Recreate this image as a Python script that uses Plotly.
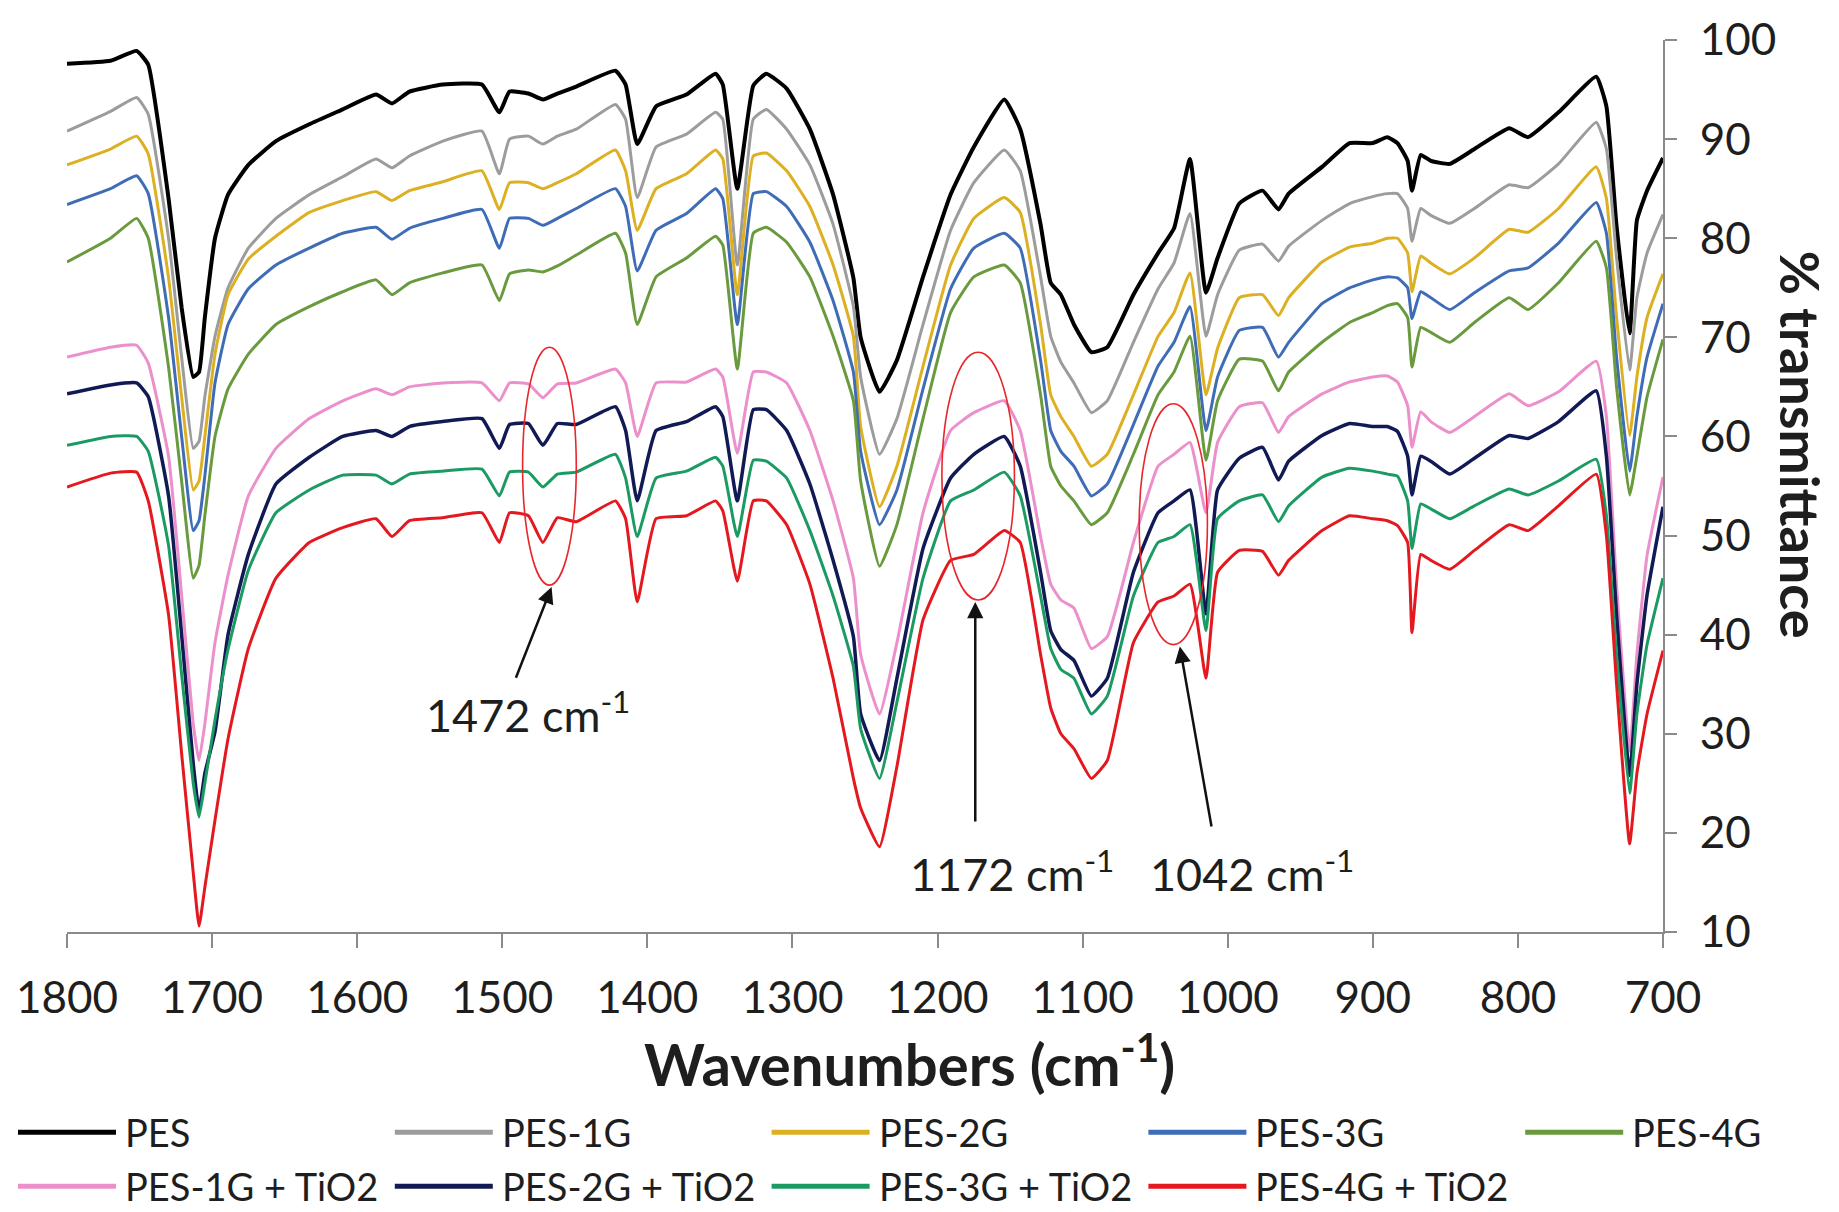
import plotly.graph_objects as go

# ---------------- data ----------------
wavenumber = [1800, 1770, 1752, 1744, 1730, 1721, 1713, 1709, 1705, 1698,
              1689, 1675, 1656, 1633, 1610, 1587, 1576, 1564, 1541, 1514,
              1502, 1495, 1482, 1472, 1462, 1449, 1422, 1415, 1407, 1394,
              1373, 1353, 1348, 1338, 1327, 1318, 1304, 1288, 1272, 1258,
              1253, 1240, 1228, 1210, 1191, 1175, 1154, 1143, 1129, 1122,
              1115, 1106, 1094, 1083, 1065, 1048, 1037, 1026, 1015, 1007,
              992, 976, 965, 958, 935, 916, 900, 890, 883, 876,
              873, 867, 860, 847, 830, 806, 793, 772, 746, 739,
              732, 723, 718, 711, 700]

pes = [97.6, 97.9, 98.9, 97.5, 84.0, 73.0, 66.0, 66.5, 72.0, 80.0,
       84.4, 87.4, 89.8, 91.5, 93.0, 94.5, 93.6, 94.8, 95.5, 95.5,
       92.7, 94.8, 94.6, 94.0, 94.6, 95.3, 96.9, 95.5, 89.5, 93.3,
       94.5, 96.6, 95.5, 85.0, 95.4, 96.6, 95.1, 91.0, 84.4, 76.0,
       70.0, 64.5, 67.7, 76.1, 84.4, 89.2, 94.0, 91.0, 81.4, 75.5,
       74.3, 71.3, 68.5, 69.0, 74.3, 78.5, 81.0, 88.0, 74.5, 78.0,
       83.5, 84.8, 82.9, 84.5, 87.2, 89.6, 89.6, 90.2, 89.6, 87.8,
       84.8, 88.4, 87.8, 87.5, 89.0, 91.1, 90.2, 92.7, 96.3, 93.3,
       81.2, 70.4, 81.8, 84.8, 88.1]

pes_1g = [90.8, 92.8, 94.2, 92.5, 80.0, 68.0, 58.8, 59.5, 64.0, 70.1,
          75.0, 79.0, 82.0, 84.4, 86.2, 88.0, 87.1, 88.3, 89.8, 90.8,
          86.5, 90.0, 90.3, 89.5, 90.3, 91.0, 93.5, 92.0, 84.1, 89.2,
          90.5, 92.7, 92.0, 77.3, 92.0, 93.0, 91.0, 87.4, 81.4, 73.1,
          66.0, 58.2, 61.8, 71.3, 80.8, 85.6, 88.9, 86.8, 76.1, 70.1,
          67.5, 65.4, 62.4, 63.6, 69.5, 74.9, 77.5, 82.5, 70.1, 74.3,
          78.8, 79.4, 77.7, 79.2, 81.8, 83.5, 84.2, 84.5, 84.5, 83.0,
          79.7, 83.0, 82.3, 81.5, 83.0, 85.4, 85.1, 87.5, 91.7, 89.0,
          78.0, 66.7, 74.0, 78.5, 82.4]

pes_2g = [87.4, 89.0, 90.3, 88.5, 76.0, 64.0, 54.6, 55.5, 60.0, 68.3,
          74.3, 77.9, 80.2, 82.6, 83.8, 84.7, 83.8, 84.8, 85.7, 86.8,
          82.9, 85.6, 85.6, 85.0, 85.6, 86.5, 88.9, 86.8, 80.8, 85.0,
          86.5, 88.9, 88.0, 74.3, 88.3, 88.6, 86.8, 83.2, 77.3, 70.1,
          61.0, 52.9, 57.0, 67.1, 77.3, 82.0, 84.1, 82.6, 71.3, 64.2,
          62.0, 60.0, 57.0, 58.2, 64.2, 70.1, 72.5, 76.5, 64.2, 68.9,
          74.0, 74.3, 72.2, 74.0, 77.6, 79.1, 79.5, 80.0, 80.0, 78.5,
          74.6, 78.2, 77.5, 76.4, 78.0, 80.9, 80.6, 83.0, 87.2, 84.0,
          72.0, 60.1, 66.0, 72.0, 76.4]

pes_3g = [83.4, 85.0, 86.3, 84.5, 72.0, 60.0, 50.5, 51.5, 56.0, 65.4,
          71.3, 74.9, 77.3, 79.0, 80.5, 81.1, 79.9, 81.0, 82.0, 82.9,
          79.0, 82.0, 82.0, 81.3, 82.0, 83.0, 85.0, 83.2, 76.7, 80.8,
          82.5, 85.0, 84.0, 71.3, 84.5, 84.7, 83.2, 79.6, 73.7, 66.5,
          58.5, 51.1, 54.6, 64.8, 74.9, 79.0, 80.5, 79.0, 67.7, 60.6,
          58.5, 57.0, 54.0, 55.2, 61.2, 67.1, 69.5, 73.1, 60.6, 66.0,
          70.7, 71.0, 68.0, 69.5, 73.4, 75.0, 75.8, 76.1, 76.0, 75.0,
          71.9, 74.6, 74.0, 72.8, 74.5, 76.7, 77.0, 79.5, 83.6, 80.5,
          68.0, 56.5, 62.0, 68.0, 73.4]

pes_4g = [77.6, 80.0, 82.0, 80.0, 67.0, 55.5, 45.7, 47.0, 52.0, 60.0,
          64.8, 68.3, 71.3, 73.1, 74.6, 75.8, 74.3, 75.5, 76.5, 77.3,
          73.7, 76.4, 76.8, 76.6, 77.2, 78.3, 80.5, 78.5, 71.3, 76.1,
          78.0, 80.2, 79.3, 66.8, 80.5, 81.1, 79.6, 76.1, 70.1, 63.6,
          55.5, 46.9, 51.1, 61.8, 72.5, 76.1, 77.3, 75.5, 64.2, 57.0,
          55.0, 53.5, 51.1, 52.3, 58.2, 64.2, 66.5, 70.1, 57.6, 63.6,
          67.8, 67.6, 64.6, 66.5, 69.5, 71.5, 72.5, 73.2, 73.4, 72.0,
          67.0, 71.0, 70.5, 69.5, 71.5, 74.0, 72.8, 75.5, 79.7, 77.0,
          65.0, 54.1, 58.0, 64.0, 69.8]

pes_1g_tio2 = [68.0, 69.0, 69.2, 67.4, 58.0, 44.0, 31.0, 27.3, 31.0, 39.2,
               46.0, 54.0, 58.8, 61.8, 63.6, 64.8, 64.2, 65.0, 65.4, 65.4,
               63.6, 65.4, 65.3, 63.9, 65.3, 65.4, 66.8, 65.4, 60.0, 65.4,
               65.5, 66.8, 66.0, 58.3, 66.5, 66.5, 65.4, 60.6, 53.5, 45.7,
               38.0, 32.0, 39.2, 52.3, 60.6, 62.4, 63.6, 60.6, 49.9, 45.1,
               43.5, 42.7, 38.6, 39.8, 49.3, 57.0, 58.2, 59.4, 52.3, 59.4,
               63.0, 63.4, 60.4, 62.0, 64.3, 65.5, 66.0, 66.1, 65.5, 63.1,
               58.9, 62.5, 61.5, 60.4, 62.0, 64.3, 63.1, 64.5, 67.6, 62.0,
               45.0, 28.2, 38.0, 48.0, 55.9]

pes_2g_tio2 = [64.3, 65.2, 65.4, 64.0, 54.0, 40.0, 27.0, 22.2, 26.0, 30.2,
               40.0, 48.1, 55.2, 57.9, 60.0, 60.6, 60.0, 61.0, 61.5, 61.8,
               58.8, 61.2, 61.3, 59.1, 61.3, 61.2, 63.0, 60.6, 53.5, 60.6,
               61.5, 63.0, 62.0, 53.5, 62.7, 62.7, 60.6, 55.2, 47.5, 39.8,
               32.0, 27.3, 35.6, 48.7, 55.8, 58.2, 60.0, 57.0, 46.3, 40.4,
               38.5, 37.4, 33.8, 35.6, 46.3, 52.3, 53.5, 54.6, 42.1, 54.6,
               57.8, 58.9, 55.6, 57.5, 60.1, 61.3, 61.0, 61.0, 60.5, 58.0,
               54.1, 58.0, 57.5, 56.2, 57.8, 60.1, 59.8, 61.5, 64.6, 58.0,
               42.0, 25.8, 35.0, 44.0, 52.9]

pes_3g_tio2 = [59.1, 60.0, 60.0, 58.5, 49.0, 36.0, 25.0, 21.6, 25.0, 31.4,
               38.5, 46.5, 52.3, 54.6, 56.1, 56.1, 55.2, 56.2, 56.5, 56.7,
               54.0, 56.4, 56.4, 54.9, 56.2, 56.4, 58.2, 55.8, 49.9, 55.8,
               56.5, 57.9, 57.0, 49.9, 57.6, 57.5, 55.8, 50.5, 43.9, 36.8,
               30.5, 25.5, 33.2, 45.7, 53.5, 54.6, 56.4, 54.0, 43.9, 38.6,
               36.5, 35.6, 32.0, 33.8, 43.9, 49.3, 49.9, 51.1, 40.4, 51.7,
               53.5, 54.1, 51.4, 53.0, 55.9, 56.8, 56.5, 56.2, 56.0, 53.5,
               48.7, 53.2, 52.7, 51.7, 53.0, 54.7, 54.1, 55.5, 57.7, 52.0,
               38.0, 24.0, 32.0, 39.0, 45.7]

pes_4g_tio2 = [54.9, 56.3, 56.4, 53.5, 42.0, 28.0, 16.0, 10.6, 14.5, 21.3,
               29.5, 38.6, 45.7, 49.3, 50.8, 51.7, 49.9, 51.5, 51.8, 52.3,
               49.3, 52.3, 52.0, 49.3, 51.8, 51.4, 53.5, 51.7, 43.3, 51.7,
               52.0, 53.5, 52.5, 45.4, 53.5, 53.5, 51.1, 45.1, 35.6, 25.5,
               22.5, 18.6, 26.7, 41.5, 47.5, 48.1, 50.5, 49.3, 38.0, 32.6,
               30.0, 28.5, 25.5, 27.3, 39.2, 43.3, 43.9, 45.1, 35.6, 46.3,
               48.5, 48.4, 46.0, 47.5, 50.5, 52.0, 51.7, 51.5, 51.0, 49.3,
               40.2, 48.1, 47.5, 46.6, 48.5, 51.1, 50.5, 53.0, 56.2, 50.0,
               35.0, 18.9, 26.0, 32.0, 38.4]

series_names = ["PES", "PES-1G", "PES-2G", "PES-3G", "PES-4G",
                "PES-1G + TiO2", "PES-2G + TiO2", "PES-3G + TiO2", "PES-4G + TiO2"]
series_values = [pes, pes_1g, pes_2g, pes_3g, pes_4g,
                 pes_1g_tio2, pes_2g_tio2, pes_3g_tio2, pes_4g_tio2]

x_ticks = [1800, 1700, 1600, 1500, 1400, 1300, 1200, 1100, 1000, 900, 800, 700]
y_ticks = [10, 20, 30, 40, 50, 60, 70, 80, 90, 100]

# annotated bands: label, ellipse x-range, ellipse y-range, arrow tail, arrow head, label position
band_labels = ["1472 cm<sup>-1</sup>", "1172 cm<sup>-1</sup>", "1042 cm<sup>-1</sup>"]
ellipse_x = [(1486, 1449), (1197, 1147), (1061, 1014)]
ellipse_y = [(45.0, 69.0), (43.5, 68.5), (39.0, 63.3)]
arrow_tail = [(1491, 35.5), (1174, 21.0), (1011, 20.5)]
arrow_head = [(1466, 44.8), (1174, 43.3), (1033, 38.8)]
label_pos = [(1482, 32.2), (1149, 16.2), (983, 16.2)]

# ---------------- styling ----------------
colors = ["#000000", "#9c9c9c", "#dcb022", "#3f6cb6", "#6a9a3e",
          "#ec90cc", "#111a55", "#1b9a63", "#e3191f"]
widths = [4, 3, 3, 3, 3, 3, 3.5, 3, 3]
FONT = "Lato, Carlito, Open Sans, sans-serif"
TXT = "#1e1e1e"
AXC = "#8a8a8a"

W, H = 1839, 1212
ML, MR, MT, MB = 67, 176, 37, 280
PW, PH = W - ML - MR, H - MT - MB


def px_to_paper_x(px):
    return (px - ML) / PW


def py_to_paper_y(py):
    return (H - MB - py) / PH


fig = go.Figure()
for name, vals, col, lw in zip(series_names, series_values, colors, widths):
    fig.add_trace(go.Scatter(x=wavenumber, y=vals, mode="lines", name=name,
                             line=dict(color=col, width=lw, shape="spline", smoothing=0.4),
                             showlegend=False))

# ellipses
for (xa, xb), (ya, yb) in zip(ellipse_x, ellipse_y):
    fig.add_shape(type="circle", xref="x", yref="y", x0=xa, x1=xb, y0=ya, y1=yb,
                  line=dict(color="#e8262b", width=1.6), fillcolor="rgba(0,0,0,0)")

# arrows and labels
for lab, (tx, ty), (hx, hy), (lx, ly) in zip(band_labels, arrow_tail, arrow_head, label_pos):
    fig.add_annotation(x=hx, y=hy, ax=tx, ay=ty, xref="x", yref="y", axref="x", ayref="y",
                       text="", showarrow=True, arrowhead=2, arrowsize=1.3,
                       arrowwidth=2.5, arrowcolor="#111111")
    fig.add_annotation(x=lx, y=ly, xref="x", yref="y", text=lab, showarrow=False,
                       font=dict(family=FONT, size=45, color=TXT),
                       xanchor="center", yanchor="middle")

# axis titles
fig.add_annotation(x=px_to_paper_x(909), y=py_to_paper_y(1060), xref="paper", yref="paper",
                   text="<b>Wavenumbers (cm<sup>-1</sup>)</b>", showarrow=False,
                   font=dict(family=FONT, size=58, color=TXT),
                   xanchor="center", yanchor="middle")
fig.add_annotation(x=px_to_paper_x(1800), y=py_to_paper_y(443), xref="paper", yref="paper",
                   text="<b>% transmittance</b>", showarrow=False, textangle=90,
                   font=dict(family=FONT, size=54, color=TXT), borderpad=0,
                   xanchor="center", yanchor="middle")

# legend (two rows, five columns)
leg_x0, leg_dx, leg_len = 18, 376.8, 98
leg_y0, leg_dy = 1133, 54
for i, (name, col) in enumerate(zip(series_names, colors)):
    r, c = divmod(i, 5)
    x0 = leg_x0 + c * leg_dx
    yy = leg_y0 + r * leg_dy
    fig.add_shape(type="line", xref="paper", yref="paper",
                  x0=px_to_paper_x(x0), x1=px_to_paper_x(x0 + leg_len),
                  y0=py_to_paper_y(yy), y1=py_to_paper_y(yy),
                  line=dict(color=col, width=5))
    fig.add_annotation(x=px_to_paper_x(x0 + leg_len + 8), y=py_to_paper_y(yy),
                       xref="paper", yref="paper", text=name, showarrow=False,
                       font=dict(family=FONT, size=38, color=TXT), borderpad=0,
                       xanchor="left", yanchor="middle")

fig.update_layout(
    width=W, height=H,
    margin=dict(l=ML, r=MR, t=MT, b=MB, pad=0),
    paper_bgcolor="white", plot_bgcolor="white",
    showlegend=False,
    xaxis=dict(range=[1800, 700], tickvals=x_ticks, ticks="outside", ticklen=14,
               tickwidth=2, tickcolor=AXC, showline=True, linecolor=AXC, linewidth=2,
               showgrid=False, zeroline=False, ticklabelstandoff=12,
               tickfont=dict(family=FONT, size=44, color=TXT)),
    yaxis=dict(range=[10, 100], tickvals=y_ticks, side="right", ticks="outside",
               ticklen=12, tickwidth=2, tickcolor=AXC, showline=True, linecolor=AXC,
               linewidth=2, showgrid=False, zeroline=False, ticklabelstandoff=14,
               tickfont=dict(family=FONT, size=44, color=TXT)),
)

fig.write_html("out.html", config={"displayModeBar": False},
               post_script="document.body.style.margin='0';")
